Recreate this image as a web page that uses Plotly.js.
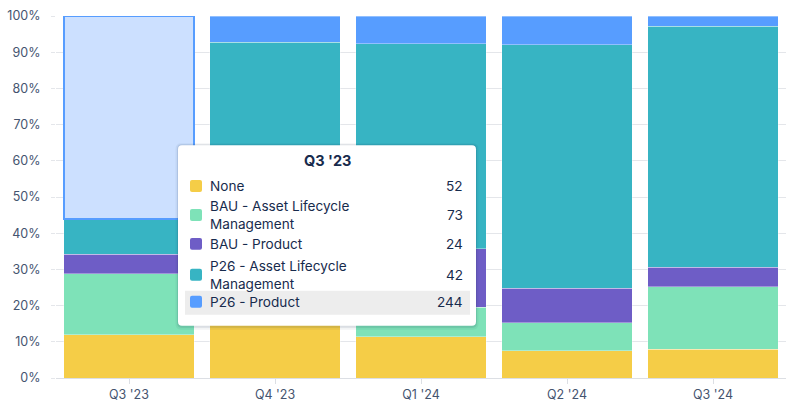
<!DOCTYPE html>
<html>
<head>
<meta charset="utf-8">
<script src="https://cdn.plot.ly/plotly-3.0.1.min.js"></script>
<style>html,body{margin:0;padding:0;background:#fff;}#chart{width:790px;height:416px;}</style>
</head>
<body>
<div id="chart"></div>
<script>
// ---- data ----
const categories = ["Q3 '23", "Q4 '23", "Q1 '24", "Q2 '24", "Q3 '24"];
const seriesNames = ["None", "BAU - Asset Lifecycle Management", "BAU - Product", "P26 - Asset Lifecycle Management", "P26 - Product"];
const noneVals    = [52, 80, 48, 30, 30];
const bauAlmVals  = [73, 45, 34, 31, 66];
const bauProdVals = [24, 28, 68, 38, 20];
const p26AlmVals  = [42, 227, 238, 269, 253];
const p26ProdVals = [244, 30, 32, 32, 11];
const seriesColors = ["#F5CD47", "#7EE2B8", "#6E5DC6", "#37B4C3", "#579DFF"];
const hoverCategory = "Q3 '23";
const tooltipLabels = ["None", "BAU - Asset Lifecycle<br>Management", "BAU - Product", "P26 - Asset Lifecycle<br>Management", "P26 - Product"];

const allVals = [noneVals, bauAlmVals, bauProdVals, p26AlmVals, p26ProdVals];
const hoverIdx = categories.indexOf(hoverCategory);

// pixel -> paper helpers (plot area: x 56..786, y 15.5..378.5)
const PL = 56, PW = 730, PB = 378.5, PH = 363;
const px = x => (x - PL) / PW;
const py = y => (PB - y) / PH;

const traces = seriesNames.map((name, i) => {
  const isLast = i === seriesNames.length - 1;
  const colors = categories.map((c, j) => (isLast && j === hoverIdx) ? "#CCE0FF" : seriesColors[i]);
  const lineColors = categories.map((c, j) => (isLast && j === hoverIdx) ? "#579DFF" : "rgba(255,255,255,0.35)");
  const lineWidths = categories.map((c, j) => (isLast && j === hoverIdx) ? 2 : 1);
  return {
    type: "bar",
    name: name,
    x: categories,
    y: allVals[i],
    marker: {color: colors, line: {color: lineColors, width: lineWidths}},
    hoverinfo: "none"
  };
});

const shapes = [];
const annotations = [];
const txt = "#172B4D";
const rr = (x0, y0, x1, y1, r) => {
  const X0 = px(x0), X1 = px(x1), Y0 = py(y0), Y1 = py(y1);
  const rx = r / PW, ry = r / PH;
  return `M ${X0 + rx},${Y0} L ${X1 - rx},${Y0} Q ${X1},${Y0} ${X1},${Y0 - ry} L ${X1},${Y1 + ry} Q ${X1},${Y1} ${X1 - rx},${Y1} L ${X0 + rx},${Y1} Q ${X0},${Y1} ${X0},${Y1 + ry} L ${X0},${Y0 - ry} Q ${X0},${Y0} ${X0 + rx},${Y0} Z`;
};
// tooltip shadow + box
shapes.push({type: "path", xref: "paper", yref: "paper", layer: "above",
  path: rr(175.5, 143, 478.5, 330, 6), fillcolor: "rgba(9,30,66,0.05)", line: {width: 0}});
shapes.push({type: "path", xref: "paper", yref: "paper", layer: "above",
  path: rr(177, 144, 477, 328, 5), fillcolor: "rgba(9,30,66,0.10)", line: {width: 0}});
shapes.push({type: "path", xref: "paper", yref: "paper", layer: "above",
  path: rr(178, 145, 476, 326, 4), fillcolor: "#FFFFFF", line: {width: 0}});
// highlighted row
shapes.push({type: "rect", xref: "paper", yref: "paper", layer: "above",
  x0: px(185), x1: px(470), y0: py(291), y1: py(315),
  fillcolor: "#EDEDED", line: {width: 0}});

annotations.push({xref: "paper", yref: "paper", x: px(327), y: py(160), xanchor: "center", yanchor: "middle",
  text: "<b>" + hoverCategory + "</b>", showarrow: false, font: {family: "Inter, sans-serif", size: 14.5, color: txt}});

const rowCenters = [186, 215, 244, 275, 302];
seriesNames.forEach((name, i) => {
  const yc = rowCenters[i];
  shapes.push({type: "path", xref: "paper", yref: "paper", layer: "above",
    path: rr(190, yc - 6, 202, yc + 6, 2), fillcolor: seriesColors[i], line: {width: 0}});
  annotations.push({xref: "paper", yref: "paper", x: px(208), y: py(yc), xanchor: "left", yanchor: "middle", align: "left",
    text: tooltipLabels[i], showarrow: false, font: {family: "Inter, sans-serif", size: 13.6, color: txt}});
  annotations.push({xref: "paper", yref: "paper", x: px(465), y: py(yc), xanchor: "right", yanchor: "middle",
    text: String(allVals[i][hoverIdx]), showarrow: false, font: {family: "Inter, sans-serif", size: 13.6, color: txt}});
});

const layout = {
  width: 790, height: 416,
  margin: {l: PL, r: 790 - PL - PW, t: 15.5, b: 416 - PB},
  barmode: "stack",
  barnorm: "percent",
  bargap: 0.104,
  showlegend: false,
  paper_bgcolor: "#FFFFFF",
  plot_bgcolor: "#FFFFFF",
  font: {family: "Inter, sans-serif", size: 12.5, color: "#44546F"},
  xaxis: {
    type: "category",
    ticks: "outside", ticklen: 5, tickcolor: "#DCDFE4",
    showgrid: false, showline: true, linecolor: "#DCDFE4", linewidth: 1,
    tickfont: {family: "Inter, sans-serif", size: 12.5, color: "#44546F"}
  },
  yaxis: {
    range: [0, 100],
    dtick: 10,
    ticksuffix: "%",
    ticks: "outside", ticklen: 4, tickcolor: "#E4E6EA",
    gridcolor: "#E4E6EA", gridwidth: 1,
    zeroline: false, showline: false,
    ticklabelstandoff: 8,
    tickfont: {family: "Inter, sans-serif", size: 12.5, color: "#44546F"}
  },
  shapes: shapes,
  annotations: annotations
};

Plotly.newPlot("chart", traces, layout, {displayModeBar: false, staticPlot: true});
</script>
</body>
</html>
